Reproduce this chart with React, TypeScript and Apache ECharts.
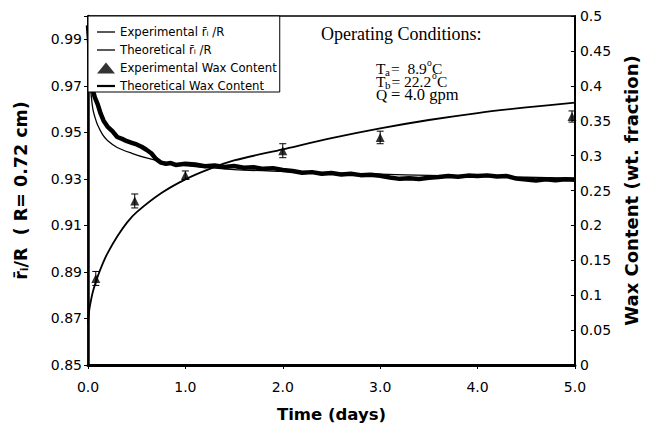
import React, { useEffect, useRef } from "react";
import * as echarts from "echarts";

// ---- Data ----
const expRT = [0, 0.01, 0.02, 0.03, 0.04, 0.05, 0.07, 0.1, 0.13, 0.16, 0.2, 0.25, 0.3, 0.35, 0.4, 0.45, 0.5, 0.55, 0.6, 0.65, 0.7, 0.75, 0.8, 0.85, 0.9, 1.0,
  1.1, 1.2, 1.3, 1.4, 1.5, 1.6, 1.7, 1.8, 1.9, 2.0, 2.1, 2.2, 2.3, 2.4, 2.5, 2.6, 2.7, 2.8, 2.9, 3.0,
  3.1, 3.2, 3.3, 3.4, 3.5, 3.6, 3.7, 3.8, 3.9, 4.0, 4.1, 4.2, 4.3, 4.4, 4.5, 4.6, 4.7, 4.8, 4.9, 5.0];
const expR = [0.996, 0.99, 0.982, 0.975, 0.971, 0.968, 0.965, 0.962, 0.958, 0.955, 0.9525, 0.9505, 0.948, 0.9472, 0.9462, 0.9455, 0.9448, 0.9438, 0.9425, 0.941, 0.9385, 0.937, 0.9365, 0.9368, 0.936, 0.9365,
  0.9362, 0.9354, 0.9358, 0.9351, 0.9355, 0.9348, 0.935, 0.9343, 0.9346, 0.9338, 0.9334, 0.9326, 0.9329, 0.9322, 0.9325, 0.9319, 0.9322, 0.9316, 0.9318, 0.9313,
  0.9306, 0.93, 0.9303, 0.9299, 0.9305, 0.9308, 0.9312, 0.9309, 0.9314, 0.9312, 0.9315, 0.931, 0.9312, 0.9301, 0.9297, 0.9293, 0.9298, 0.9294, 0.9298, 0.9296];

const theoRT = [0, 0.005, 0.01, 0.02, 0.035, 0.05, 0.075, 0.1, 0.15, 0.2, 0.3, 0.45, 0.6, 0.8, 1.0, 1.25, 1.5, 2.0, 2.5, 3.0, 3.5, 4.0, 4.5, 5.0];
const theoR = [1.0, 0.99, 0.982, 0.972, 0.965, 0.96, 0.956, 0.953, 0.949, 0.9465, 0.9435, 0.941, 0.939, 0.937, 0.9357, 0.9348, 0.934, 0.9332, 0.9325, 0.932, 0.9315, 0.931, 0.9307, 0.9303];

const waxExpT = [0.08, 0.48, 1.0, 2.0, 3.0, 4.97];
const waxExp = [0.124, 0.235, 0.272, 0.307, 0.326, 0.356];
const waxErr = [0.01, 0.01, 0.006, 0.01, 0.009, 0.008];

const waxTheoT = [0, 0.01, 0.02, 0.05, 0.1, 0.15, 0.2, 0.3, 0.4, 0.5, 0.75, 1.0, 1.25, 1.5, 2.0, 2.5, 3.0, 3.5, 4.0, 4.5, 5.0];
const waxTheo = [0.06, 0.075, 0.085, 0.105, 0.127, 0.145, 0.16, 0.184, 0.204, 0.219, 0.246, 0.266, 0.281, 0.293, 0.309, 0.325, 0.339, 0.351, 0.361, 0.369, 0.376];

const seriesNames = [
  "Experimental r\u0304\u1D62 /R",
  "Theoretical r\u0304\u1D62 /R",
  "Experimental Wax Content",
  "Theoretical Wax Content",
];

const SANS = '"DejaVu Sans", sans-serif';
const SERIF = '"Liberation Serif", "DejaVu Serif", serif';

function piece(text: string, left: number, top: number, size: number) {
  return {
    type: "text",
    left,
    top,
    style: { text, font: `${size}px ${SERIF}`, fill: "#000" },
    z: 10,
  };
}

export default function App() {
  const ref = useRef<HTMLDivElement>(null);
  useEffect(() => {
    document.body.style.margin = "0";
    const chart = echarts.init(ref.current!, null, { renderer: "svg" });
    const L1 = 60, L2 = 73, L3 = 86;
    chart.setOption({
      animation: false,
      backgroundColor: "#fff",
      grid: { left: 88, top: 16, right: 73, bottom: 61, show: true, borderColor: "#000", borderWidth: 1.5 },
      legend: {
        orient: "vertical",
        left: 88,
        top: 16,
        backgroundColor: "#fff",
        borderColor: "#000",
        borderWidth: 1,
        borderRadius: 0,
        padding: [10, 3, 0, 9],
        itemGap: 6,
        itemWidth: 18,
        itemHeight: 11,
        textStyle: { fontFamily: SANS, fontSize: 11.7, color: "#000" },
        data: [
          { name: seriesNames[0], icon: "path://M0,0L18,0L18,1.3L0,1.3Z" },
          { name: seriesNames[1], icon: "path://M0,0L18,0L18,1.3L0,1.3Z" },
          { name: seriesNames[2], icon: "triangle" },
          { name: seriesNames[3], icon: "path://M0,0L18,0L18,2.2L0,2.2Z" },
        ],
      },
      xAxis: {
        type: "value",
        min: 0,
        max: 5,
        interval: 1,
        name: "Time (days)",
        nameLocation: "middle",
        nameGap: 41,
        nameTextStyle: { fontFamily: SANS, fontSize: 16.5, fontWeight: "bold", color: "#000" },
        axisLine: { lineStyle: { color: "#000", width: 3 } },
        axisTick: { length: 4, lineStyle: { color: "#000", width: 1 } },
        axisLabel: { margin: 15, fontFamily: SANS, fontSize: 14, color: "#000", formatter: (v: number) => v.toFixed(1) },
        splitLine: { show: false },
      },
      yAxis: [
        {
          type: "value",
          position: "left",
          min: 0.85,
          max: 1.0,
          interval: 0.02,
          name: "{b|r\u0304}{s|i}{b|/R  ( R= 0.72 cm)}",
          nameLocation: "middle",
          nameRotate: 90,
          nameGap: 58,
          nameTextStyle: {
            rich: {
              b: { fontFamily: SANS, fontSize: 17.5, fontWeight: "bold", color: "#000" },
              s: { fontFamily: SANS, fontSize: 11, fontWeight: "bold", color: "#000", verticalAlign: "bottom", padding: [8, 0, 0, 0] },
            },
          },
          axisLine: { show: true, lineStyle: { color: "#000", width: 2.5 } },
          axisTick: { show: true, length: 4, lineStyle: { color: "#000", width: 1 } },
          axisLabel: {
            margin: 6,
            fontFamily: SANS,
            fontSize: 14,
            color: "#000",
            formatter: (v: number) => (v > 0.995 ? "" : v.toFixed(2)),
          },
          splitLine: { show: false },
        },
        {
          type: "value",
          position: "right",
          min: 0,
          max: 0.5,
          interval: 0.05,
          name: "Wax Content (wt. fraction)",
          nameLocation: "middle",
          nameRotate: 90,
          nameGap: 41,
          nameTextStyle: { fontFamily: SANS, fontSize: 18, fontWeight: "bold", color: "#000" },
          axisLine: { show: true, lineStyle: { color: "#000", width: 2 } },
          axisTick: { show: true, inside: true, length: 4, lineStyle: { color: "#000", width: 1 } },
          axisLabel: { margin: 5, fontFamily: SANS, fontSize: 14, color: "#000" },
          splitLine: { show: false },
        },
      ],
      series: [
        {
          name: seriesNames[0],
          type: "line",
          yAxisIndex: 0,
          symbol: "none",
          lineStyle: { color: "#000", width: 4.5 },
          itemStyle: { color: "#000" },
          data: expRT.map((t, i) => [t, expR[i]]),
          z: 2,
        },
        {
          name: seriesNames[1],
          type: "line",
          yAxisIndex: 0,
          symbol: "none",
          smooth: 0.3,
          lineStyle: { color: "#000", width: 1.3 },
          itemStyle: { color: "#000" },
          data: theoRT.map((t, i) => [t, theoR[i]]),
          z: 3,
        },
        {
          name: seriesNames[2],
          type: "scatter",
          yAxisIndex: 1,
          symbol: "triangle",
          symbolSize: 9,
          itemStyle: { color: "#000" },
          data: waxExpT.map((t, i) => [t, waxExp[i]]),
          clip: false,
          z: 5,
        },
        {
          type: "custom",
          yAxisIndex: 1,
          silent: true,
          clip: false,
          z: 4,
          data: waxExpT.map((t, i) => [t, waxExp[i] - waxErr[i], waxExp[i] + waxErr[i]]),
          renderItem: (params: any, api: any) => {
            const lo = api.coord([api.value(0), api.value(1)]);
            const hi = api.coord([api.value(0), api.value(2)]);
            const st = { stroke: "#000", lineWidth: 1 };
            return {
              type: "group",
              children: [
                { type: "line", shape: { x1: lo[0], y1: lo[1], x2: hi[0], y2: hi[1] }, style: st },
                { type: "line", shape: { x1: lo[0] - 3.5, y1: lo[1], x2: lo[0] + 3.5, y2: lo[1] }, style: st },
                { type: "line", shape: { x1: hi[0] - 3.5, y1: hi[1], x2: hi[0] + 3.5, y2: hi[1] }, style: st },
              ],
            };
          },
        },
        {
          name: seriesNames[3],
          type: "line",
          yAxisIndex: 1,
          symbol: "none",
          smooth: 0.3,
          lineStyle: { color: "#000", width: 1.8 },
          itemStyle: { color: "#000" },
          data: waxTheoT.map((t, i) => [t, waxTheo[i]]),
          z: 3,
        },
      ],
      graphic: [
        {
          type: "text",
          left: 321,
          top: 25,
          style: { text: "Operating Conditions:", font: `18px ${SERIF}`, fill: "#000" },
        },
        piece("T", 376, L1, 15.5),
        piece("a", 385, L1 + 6, 11),
        piece("=  8.9", 391, L1, 15.5),
        piece("o", 427, L1 - 2, 9.5),
        piece("C", 432, L1, 15.5),
        piece("T", 376, L2, 15.5),
        piece("b", 385, L2 + 6, 11),
        piece("= 22.2", 391.5, L2, 15.5),
        piece("o", 432, L2 - 2, 9.5),
        piece("C", 437, L2, 15.5),
        piece("Q", 376, L3, 15.5),
        piece("= 4.0 gpm", 391, L3, 16.5),
      ],
    });
    return () => chart.dispose();
  }, []);
  return <div ref={ref} style={{ width: 648, height: 428 }} />;
}
